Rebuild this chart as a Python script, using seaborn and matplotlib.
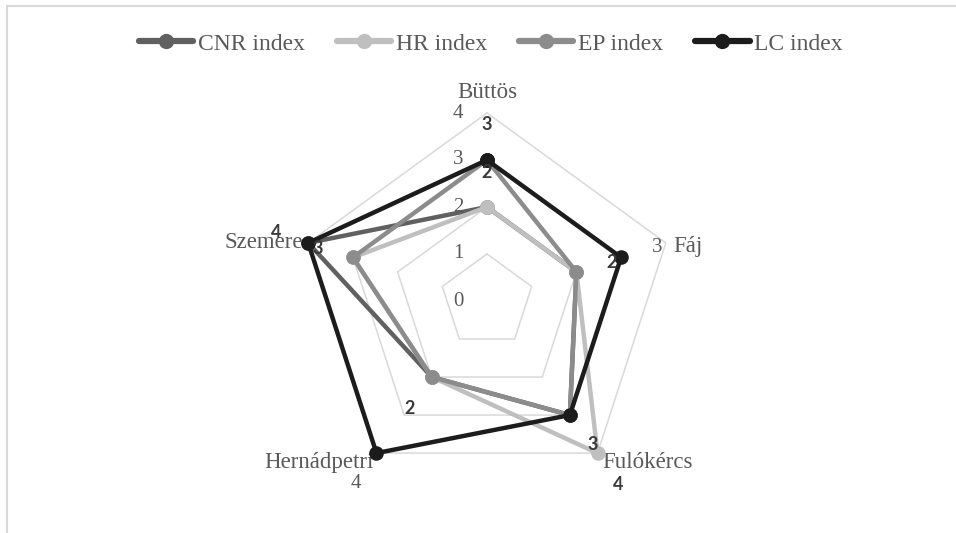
import numpy as np
import pandas as pd
import matplotlib
matplotlib.use("Agg")
import matplotlib.pyplot as plt
import seaborn as sns
from matplotlib.lines import Line2D
from matplotlib.patches import Rectangle

# ---------------- data ----------------
categories = ["Büttös", "Fáj", "Fulókércs", "Hernádpetri", "Szemere"]
series_names = ["CNR index", "HR index", "EP index", "LC index"]
cnr_values = [2, 2, 3, 2, 4]
hr_values = [2, 2, 4, 2, 3]
ep_values = [3, 2, 3, 2, 3]
lc_values = [3, 3, 3, 4, 4]
axis_ticks = [0, 1, 2, 3, 4]
# free-floating data labels as they appear in the source (text, x px, y px)
data_labels = [("3", 487, 125), ("2", 487, 173), ("2", 612, 262),
               ("4", 276, 232), ("3", 318, 248), ("2", 410, 408),
               ("3", 593, 445), ("4", 618, 484)]

colors = ["#606060", "#bfbfbf", "#8c8c8c", "#1c1c1c"]
values = [cnr_values, hr_values, ep_values, lc_values]

W, H = 956, 533
sns.set_theme(style="white")
plt.rcParams["font.family"] = ["Liberation Serif", "DejaVu Serif"]

fig = plt.figure(figsize=(W / 100, H / 100), dpi=100)
fig.patch.set_facecolor("white")

def fx(x):
    return x / W

def fy(y):
    return 1 - y / H

# polar axes: centre (487, 301) px, radius 188 px
cx, cy, R = 487, 301, 188
ax = fig.add_axes([fx(cx - R), fy(cy + R), 2 * R / W, 2 * R / H], projection="polar")
ax.set_theta_zero_location("N")
ax.set_theta_direction(-1)
ax.set_ylim(0, 4)
ax.set_xticks([])
ax.set_yticks([])
ax.grid(False)
ax.spines["polar"].set_visible(False)
ax.patch.set_alpha(0)

n = len(categories)
theta = np.arange(n) * 2 * np.pi / n
theta_closed = np.append(theta, 2 * np.pi)

# pentagon grid
for r in axis_ticks[1:]:
    ax.plot(theta_closed, [r] * (n + 1), color="#d9d9d9", lw=1.1, zorder=1,
            clip_on=False)

# series
for name, vals, col in zip(series_names, values, colors):
    df = pd.DataFrame({"theta": theta_closed, "value": list(vals) + [vals[0]]})
    sns.lineplot(data=df, x="theta", y="value", sort=False, estimator=None,
                 color=col, lw=3.2, marker="o", markersize=10.5,
                 markeredgewidth=0, ax=ax, zorder=3, clip_on=False)
ax.set_xlabel("")
ax.set_ylabel("")
ax.set_ylim(0, 4)

# radial tick labels
for r in axis_ticks:
    ax.annotate(str(r), xy=(0, r), xytext=(-29, 0), textcoords="offset pixels",
                ha="center", va="center", fontsize=15, color="#595959", zorder=5)

# category labels (offset in pixels from outer vertex)
cat_offsets = [(0, 21, "center"), (7, -4, "left"), (5, -9, "left"),
               (-3, -9, "right"), (-5, 0, "right")]
for t, lab, (dx, dy, ha) in zip(theta, categories, cat_offsets):
    ax.annotate(lab, xy=(t, 4), xytext=(dx, dy), textcoords="offset pixels",
                ha=ha, va="center", fontsize=16.5, color="#595959", zorder=2,
                annotation_clip=False)
# stray serif numbers near Fáj and Hernádpetri
ax.annotate("3", xy=(theta[1], 4), xytext=(-9, -5), textcoords="offset pixels",
            ha="center", va="center", fontsize=15, color="#595959",
            annotation_clip=False)
ax.annotate("4", xy=(theta[3], 4), xytext=(-21, -30), textcoords="offset pixels",
            ha="center", va="center", fontsize=15, color="#595959",
            annotation_clip=False)

# data labels (sans serif)
for txt, x, y in data_labels:
    fig.text(fx(x), fy(y), txt, ha="center", va="center", fontsize=13,
             color="#3a3a3a", family=["Lato", "DejaVu Sans"], fontweight="bold",
             zorder=10)

# legend
handles = [Line2D([0], [0], color=c, lw=4.5, marker="o", markersize=11,
                  markeredgewidth=0) for c in colors]
leg = fig.legend(handles, series_names, loc="center", bbox_to_anchor=(fx(491), fy(44)),
                 ncol=4, frameon=False, fontsize=17, handlelength=2.3,
                 handletextpad=0.2, columnspacing=1.35, labelcolor="#595959")

# chart border (top and left visible)
fig.add_artist(Rectangle((fx(7), fy(H + 20)), 1.2, fy(6) - fy(H + 20),
                         transform=fig.transFigure, fill=False,
                         edgecolor="#d9d9d9", lw=1.5))

fig.savefig("out.png", dpi=100, facecolor="white")
